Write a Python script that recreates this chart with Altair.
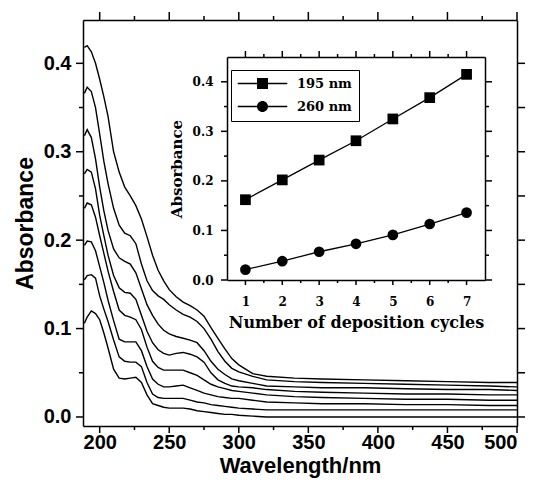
import altair as alt
import pandas as pd

# ---------------- data ----------------
wavelengths = [189, 191, 194, 197, 200, 203, 206, 210, 214, 218, 222, 226, 230, 234, 238,
               242, 246, 250, 255, 260, 265, 270, 275, 280, 285, 290, 295, 300, 310, 320,
               340, 360, 390, 420, 450, 480, 500]

c1 = [0.106, 0.113, 0.120, 0.117, 0.110, 0.095, 0.078, 0.054, 0.044, 0.043,
      0.044, 0.045, 0.039, 0.025, 0.015, 0.013, 0.011, 0.010, 0.010, 0.010,
      0.009, 0.007, 0.006, 0.005, 0.004, 0.003, 0.003, 0.002, 0.001, 0.000,
      0.000, 0.000, 0.000, 0.000, 0.000, 0.000, 0.000]
c2 = [0.155, 0.160, 0.161, 0.157, 0.137, 0.122, 0.108, 0.087, 0.068, 0.063,
      0.062, 0.062, 0.057, 0.039, 0.026, 0.022, 0.021, 0.021, 0.021, 0.021,
      0.019, 0.017, 0.016, 0.014, 0.013, 0.012, 0.011, 0.010, 0.009, 0.008,
      0.008, 0.008, 0.008, 0.008, 0.008, 0.008, 0.008]
c3 = [0.194, 0.199, 0.198, 0.188, 0.170, 0.152, 0.132, 0.109, 0.088, 0.085,
      0.085, 0.085, 0.075, 0.057, 0.043, 0.037, 0.034, 0.034, 0.035, 0.036,
      0.033, 0.030, 0.027, 0.025, 0.023, 0.022, 0.021, 0.021, 0.019, 0.017,
      0.016, 0.015, 0.015, 0.014, 0.014, 0.013, 0.013]
c4 = [0.236, 0.242, 0.240, 0.226, 0.205, 0.185, 0.165, 0.142, 0.121, 0.115,
      0.113, 0.110, 0.099, 0.079, 0.063, 0.056, 0.053, 0.053, 0.053, 0.053,
      0.050, 0.047, 0.042, 0.037, 0.034, 0.032, 0.030, 0.029, 0.027, 0.025,
      0.023, 0.022, 0.021, 0.020, 0.020, 0.019, 0.019]
c5 = [0.275, 0.280, 0.277, 0.258, 0.228, 0.205, 0.183, 0.160, 0.146, 0.141,
      0.140, 0.133, 0.115, 0.097, 0.084, 0.076, 0.072, 0.070, 0.072, 0.073,
      0.071, 0.068, 0.062, 0.050, 0.042, 0.038, 0.035, 0.034, 0.033, 0.031,
      0.029, 0.028, 0.027, 0.026, 0.026, 0.025, 0.025]
c6 = [0.318, 0.325, 0.316, 0.292, 0.260, 0.233, 0.211, 0.190, 0.180, 0.176,
      0.173, 0.163, 0.145, 0.127, 0.115, 0.105, 0.098, 0.094, 0.091, 0.089,
      0.087, 0.084, 0.075, 0.063, 0.054, 0.048, 0.043, 0.041, 0.038, 0.035,
      0.034, 0.033, 0.033, 0.032, 0.031, 0.031, 0.030]
c7 = [0.366, 0.373, 0.368, 0.350, 0.320, 0.289, 0.264, 0.236, 0.217, 0.208,
      0.205, 0.196, 0.173, 0.154, 0.143, 0.137, 0.133, 0.127, 0.121, 0.116,
      0.113, 0.108, 0.100, 0.088, 0.074, 0.063, 0.055, 0.051, 0.046, 0.042,
      0.040, 0.039, 0.038, 0.037, 0.036, 0.035, 0.034]
c8 = [0.418, 0.420, 0.413, 0.400, 0.382, 0.362, 0.340, 0.300, 0.277, 0.260,
      0.250, 0.239, 0.224, 0.204, 0.183, 0.166, 0.154, 0.144, 0.136, 0.130,
      0.126, 0.121, 0.114, 0.101, 0.089, 0.077, 0.066, 0.059, 0.049, 0.046,
      0.044, 0.043, 0.042, 0.041, 0.040, 0.039, 0.039]
curves = [c1, c2, c3, c4, c5, c6, c7, c8]

cycles = [1, 2, 3, 4, 5, 6, 7]
abs195 = [0.162, 0.202, 0.242, 0.281, 0.325, 0.368, 0.415]
abs260 = [0.021, 0.038, 0.057, 0.073, 0.091, 0.113, 0.136]
series_names = ["195 nm", "260 nm"]

# tick positions (major labelled, minor unlabelled)
x_major = [200, 250, 300, 350, 400, 450, 500]
x_minor = [225, 275, 325, 375, 425, 475]
y_major = [0.0, 0.1, 0.2, 0.3, 0.4]
y_minor = [0.05, 0.15, 0.25, 0.35]
y_all = [0.0, 0.05, 0.1, 0.15, 0.2, 0.25, 0.3, 0.35, 0.4]
ix_major = [1, 2, 3, 4, 5, 6, 7]
ix_minor = [1.5, 2.5, 3.5, 4.5, 5.5, 6.5]
iy_major = [0.0, 0.1, 0.2, 0.3, 0.4]
iy_minor = [0.05, 0.15, 0.25, 0.35]

main_df = pd.DataFrame([
    {"wl": w, "A": a, "curve": i}
    for i, c in enumerate(curves) for w, a in zip(wavelengths, c)
])
inset_df = pd.DataFrame(
    [{"n": n, "A": a, "series": series_names[0]} for n, a in zip(cycles, abs195)]
    + [{"n": n, "A": a, "series": series_names[1]} for n, a in zip(cycles, abs260)]
)

# ---------------- geometry ----------------
W, H = 434, 406
IX0, IX1 = 144, 402
IY0, IY1 = 260, 37

x_main = alt.Scale(domain=[188, 500], nice=False, zero=False)
y_main = alt.Scale(domain=[-0.0102, 0.449], nice=False, zero=False)
x_in = alt.Scale(domain=[0.5, 7.5], range=[IX0, IX1], nice=False, zero=False)
y_in = alt.Scale(domain=[0, 0.45], range=[IY0, IY1], nice=False, zero=False)

SANS = "Liberation Sans"
SERIF = "DejaVu Serif"

common = dict(grid=False, ticks=False, tickSize=0, domainColor="black", domainWidth=1.5,
              labelColor="black", titleColor="black")
main_font = dict(labelFont=SANS, labelFontWeight="bold", labelFontSize=20,
                 titleFont=SANS, titleFontWeight="bold", titleFontSize=23)
in_font = dict(labelFont=SERIF, labelFontWeight="bold", labelFontSize=12,
               titleFont=SERIF, titleFontWeight="bold", titleFontSize=15)


def bare(orient, offset=0):
    return alt.Axis(orient=orient, labels=False, title=None, offset=offset, **common)


def vticks(values, scale, y0, y1):
    return alt.Chart(pd.DataFrame({"v": values})).mark_rule(
        color="black", strokeWidth=1.5).encode(
        x=alt.X("v:Q", scale=scale, axis=None), y=alt.value(y0), y2=alt.value(y1))


def hticks(values, scale, x0, x1):
    return alt.Chart(pd.DataFrame({"v": values})).mark_rule(
        color="black", strokeWidth=1.5).encode(
        y=alt.Y("v:Q", scale=scale, axis=None), x=alt.value(x0), x2=alt.value(x1))


# ---------------- main spectra ----------------
lines = alt.Chart(main_df).mark_line(color="black", strokeWidth=1.4).encode(
    x=alt.X("wl:Q", scale=x_main, axis=alt.Axis(
        orient="bottom", values=x_major, title="Wavelength/nm", format="d",
        labelPadding=6, titlePadding=3, **common,
        **{**main_font, "titleFontSize": 22})),
    y=alt.Y("A:Q", scale=y_main, axis=alt.Axis(
        orient="left", values=y_major, title="Absorbance", format=".1f",
        labelPadding=12, titlePadding=6, **common, **main_font)),
    detail="curve:N",
)

main_frame = alt.Chart(main_df).mark_point(opacity=0).encode(
    x=alt.X("wl:Q", scale=x_main, axis=bare("top")),
    y=alt.Y("A:Q", scale=y_main, axis=bare("right")),
)

main_ticks = [
    vticks(x_major, x_main, H, H + 7), vticks(x_minor, x_main, H, H + 4),
    vticks(x_major, x_main, 0, -8), vticks(x_minor, x_main, 0, -4),
    hticks(y_major, y_main, 0, -7), hticks(y_minor, y_main, 0, -4),
    hticks(y_all, y_main, W, W + 8),
]

# ---------------- inset ----------------
in_lines = alt.Chart(inset_df).mark_line(color="black", strokeWidth=1.3).encode(
    x=alt.X("n:Q", scale=x_in, axis=alt.Axis(
        orient="bottom", offset=-(H - IY0), values=ix_major, format="d",
        title="Number of deposition cycles",
        labelPadding=16, titlePadding=7, **common,
        **{**in_font, "titleFontSize": 16})),
    y=alt.Y("A:Q", scale=y_in, axis=alt.Axis(
        orient="left", offset=-IX0, values=iy_major, format=".1f", title="Absorbance",
        labelPadding=14, titlePadding=8, **common, **in_font)),
    detail="series:N",
)

in_points = alt.Chart(inset_df).mark_point(filled=True, color="black", opacity=1, size=115).encode(
    x=alt.X("n:Q", scale=x_in, axis=bare("top", -IY1)),
    y=alt.Y("A:Q", scale=y_in, axis=bare("right", -(W - IX1))),
    shape=alt.Shape("series:N", scale=alt.Scale(domain=series_names, range=["square", "circle"]),
                    legend=None),
)

inset_ticks = [
    vticks(ix_major, x_in, IY0, IY0 + 5), vticks(ix_minor, x_in, IY0, IY0 + 3),
    vticks(ix_major, x_in, IY1, IY1 - 6), vticks(ix_minor, x_in, IY1, IY1 - 3),
    hticks(iy_major, y_in, IX0, IX0 - 6), hticks(iy_minor, y_in, IX0, IX0 - 3),
    hticks(iy_major, y_in, IX1, IX1 + 7), hticks(iy_minor, y_in, IX1, IX1 + 4),
]

# legend symbols: marker with a line through it (line parts drawn as thin filled bars)
SQ = "M-4.5,-0.12H-1V0.12H-4.5Z M1,-0.12H4.5V0.12H1Z M-1,-1H1V1H-1Z"
CI = ("M-4.5,-0.12H-0.99V0.12H-4.5Z M0.99,-0.12H4.5V0.12H0.99Z "
      "M-1,0A1,1,0,1,0,1,0A1,1,0,1,0,-1,0Z")

legend_layer = alt.Chart(inset_df).transform_filter("false").mark_point(
    filled=True, color="black", opacity=1).encode(
    x=alt.X("n:Q", scale=x_in, axis=None),
    y=alt.Y("A:Q", scale=y_in, axis=None),
    shape=alt.Shape("series:N", scale=alt.Scale(domain=series_names, range=[SQ, CI]),
                    legend=alt.Legend(
                        title=None, orient="none", legendX=148, legendY=50,
                        strokeColor="black", fillColor="white", padding=7,
                        symbolSize=121, symbolFillColor="black", symbolStrokeColor="black",
                        symbolStrokeWidth=0.5, symbolOpacity=1, symbolOffset=18,
                        labelOffset=28, rowPadding=9,
                        labelFont=SERIF, labelFontWeight="bold", labelFontSize=13,
                        labelColor="black")),
)

chart = alt.layer(
    lines, main_frame, *main_ticks,
    in_lines, in_points, *inset_ticks, legend_layer
).resolve_scale(
    x="independent", y="independent", shape="independent"
).properties(
    width=W, height=H,
    autosize=alt.AutoSizeParams(type="none"),
    padding={"left": 75, "top": 12, "right": 12, "bottom": 54},
).configure_view(stroke=None).configure(background="white")

chart.save("out.html", embed_options={"renderer": "svg", "actions": False})
